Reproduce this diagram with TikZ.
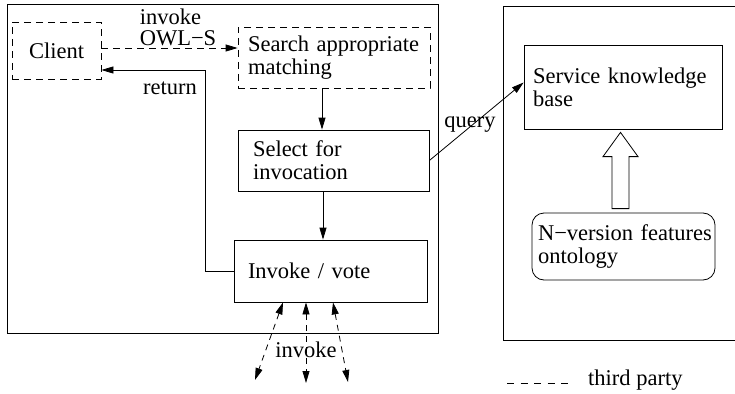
\documentclass[tikz,border=0pt]{standalone}
\usepackage{fontspec}
\setmainfont{Liberation Serif}
\usetikzlibrary{arrows.meta,calc}
\begin{document}
\begin{tikzpicture}[x=1pt,y=-1pt,
  font=\fontsize{22.5}{23}\selectfont,
  frame/.style={draw, line width=1pt, inner sep=0pt},
  box/.style={draw, line width=0.8pt, align=left, inner ysep=0pt},
  dbox/.style={box, dash pattern=on 7pt off 5pt},
  lbl/.style={inner sep=0pt},
  arr/.style={line width=0.8pt, -{Triangle[length=12pt,width=7pt]}},
  darr/.style={line width=0.8pt, dash pattern=on 6pt off 5pt, {Triangle[length=12pt,width=7pt]}-{Triangle[length=12pt,width=7pt]}},
  legdash/.style={line width=0.8pt, dash pattern=on 7pt off 6.5pt}
]
\useasboundingbox (0,0) rectangle (735,393);
\clip (0,0) rectangle (735,393);
% outer frames
\node[frame, minimum width=431pt, minimum height=328pt] (lhs) at (222.5,169) {};
\node[frame, minimum width=242pt, minimum height=333pt] (rhs) at (624,173.5) {};
% boxes
\node[dbox, inner xsep=0pt, minimum width=89pt, minimum height=57pt] (client) at (56.5,50.5) {Client};
\node[dbox, inner xsep=10pt, text width=172pt, minimum width=192pt, minimum height=61pt] (search) at (334,57.5) {\mbox{Search appropriate}\\\mbox{matching}};
\node[box, inner xsep=15pt, text width=161pt, minimum width=191pt, minimum height=61pt] (select) at (333.5,160.5) {\mbox{Select for}\\\mbox{invocation}};
\node[box, inner xsep=14pt, text width=165pt, minimum width=193pt, minimum height=62pt] (invoke) at (330.5,271) {\mbox{Invoke / vote}};
\node[box, inner xsep=9pt, text width=180pt, minimum width=198pt, minimum height=84pt] (kb) at (623,87) {\mbox{Service knowledge}\\\mbox{base}};
\node[box, rounded corners=12pt, inner xsep=6pt, text width=171pt, minimum width=183pt, minimum height=67pt] (nver) at (623.5,246.5) {\mbox{N−version features}\\\mbox{ontology}};
% labels
\node[lbl, align=left, font=\fontsize{22.5}{21}\selectfont] (invlbl) at (178,27) {invoke\\OWL−S};
\node[lbl] (retlbl) at (170,88.5) {return};
\node[lbl] (querylbl) at (470,124.5) {query};
\node[lbl] (invokelbl) at (306,349.5) {invoke};
% connectors
\draw[arr, dash pattern=on 7pt off 5pt] ([yshift=2.5pt]client.east) -- ([yshift=2.5pt]client.east -| search.west);
\coordinate (retcorner) at (205,70);
\draw[arr] (invoke.west) -| (retcorner) -- (retcorner -| client.east);
\draw[arr] ([xshift=-12pt]search.south) -- ([xshift=-12pt]search.south |- select.north);
\draw[arr] ([xshift=-10.5pt]select.south) -- ([xshift=-10.5pt]select.south |- invoke.north);
\draw[arr] (select.east) -- ([yshift=4.5pt]kb.west);
% block arrow from ontology to knowledge base
\draw[line width=0.8pt, fill=white]
  ($(nver.north)+(-11.5,-4)$) -- ($(nver.north)+(-11.5,-56)$) -- ($(nver.north)+(-20.5,-56)$)
  -- ($(kb.south)+(-2.5,3)$)
  -- ($(nver.north)+(14.5,-56)$) -- ($(nver.north)+(5.5,-56)$) -- ($(nver.north)+(5.5,-4)$) -- cycle;
% invocations of third-party services
\coordinate (e1) at (255,380);
\coordinate (e2) at (306,383);
\coordinate (e3) at (348,382);
\draw[darr] ([xshift=-47.5pt]invoke.south) -- (e1);
\draw[darr] ([xshift=-24.5pt]invoke.south) -- (e2);
\draw[darr] ([xshift=2.5pt]invoke.south) -- (e3);
% legend
\coordinate (lg1) at (507,383);
\coordinate (lg2) at (569,383);
\draw[legdash] (lg1) -- (lg2);
\node[lbl, anchor=west] (legtext) at (588,380) {third party};
\end{tikzpicture}
\end{document}
